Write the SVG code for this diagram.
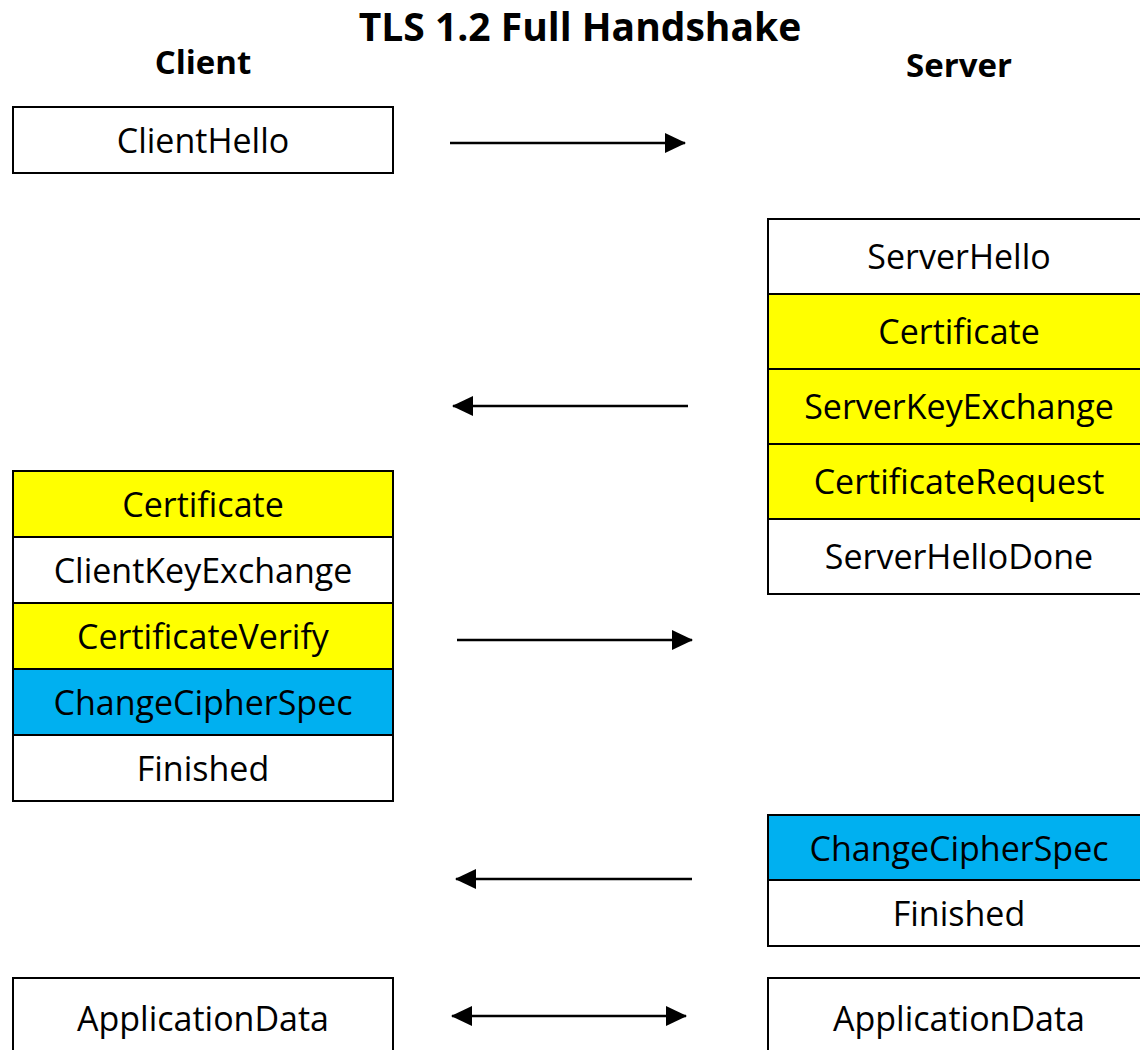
<svg xmlns="http://www.w3.org/2000/svg" width="1140" height="1050" viewBox="0 0 1140 1050">
  <style>
    .cell { stroke: #000; stroke-width: 2; }
    .plain { fill: #ffffff; }
    .opt { fill: #ffff00; }
    .ccs { fill: #00b0f0; }
    .lbl { font-family: "Open Sans", "Noto Sans", sans-serif; font-size: 34px; fill: #000; text-anchor: middle; }
    .hdr { font-family: "Open Sans", "Noto Sans", sans-serif; font-size: 33px; font-weight: bold; fill: #000; text-anchor: middle; }
    .title { font-family: "Open Sans", "Noto Sans", sans-serif; font-size: 39px; font-weight: bold; fill: #000; text-anchor: middle; }
    .msg { stroke: #000; stroke-width: 2.5; fill: none; }
  </style>
  <defs>
    <marker id="head" viewBox="0 0 21 20" refX="20" refY="10" markerWidth="21" markerHeight="20" markerUnits="userSpaceOnUse" orient="auto-start-reverse">
      <path d="M0,0 L21,10 L0,20 Z" fill="#000"/>
    </marker>
  </defs>
  <rect width="1140" height="1050" fill="#ffffff"/>

  <text class="title" x="580" y="41">TLS 1.2 Full Handshake</text>
  <text class="hdr" x="203" y="74">Client</text>
  <text class="hdr" x="959" y="77">Server</text>

  <!-- client flight 1 -->
  <g id="client-hello">
    <rect class="cell plain" x="13" y="107" width="380" height="66"/>
    <text class="lbl" x="203" y="153">ClientHello</text>
  </g>

  <!-- server flight -->
  <g id="server-flight">
    <rect class="cell plain" x="768" y="219" width="382" height="75"/>
    <text class="lbl" x="959" y="269">ServerHello</text>
    <rect class="cell opt" x="768" y="294" width="382" height="75"/>
    <text class="lbl" x="959" y="344">Certificate</text>
    <rect class="cell opt" x="768" y="369" width="382" height="75"/>
    <text class="lbl" x="959" y="419">ServerKeyExchange</text>
    <rect class="cell opt" x="768" y="444" width="382" height="75"/>
    <text class="lbl" x="959" y="494">CertificateRequest</text>
    <rect class="cell plain" x="768" y="519" width="382" height="75"/>
    <text class="lbl" x="959" y="569">ServerHelloDone</text>
  </g>

  <!-- client flight 2 -->
  <g id="client-flight">
    <rect class="cell opt" x="13" y="471" width="380" height="66"/>
    <text class="lbl" x="203" y="517">Certificate</text>
    <rect class="cell plain" x="13" y="537" width="380" height="66"/>
    <text class="lbl" x="203" y="583">ClientKeyExchange</text>
    <rect class="cell opt" x="13" y="603" width="380" height="66"/>
    <text class="lbl" x="203" y="649">CertificateVerify</text>
    <rect class="cell ccs" x="13" y="669" width="380" height="66"/>
    <text class="lbl" x="203" y="715">ChangeCipherSpec</text>
    <rect class="cell plain" x="13" y="735" width="380" height="66"/>
    <text class="lbl" x="203" y="781">Finished</text>
  </g>

  <!-- server final flight -->
  <g id="server-finish">
    <rect class="cell ccs" x="768" y="815" width="382" height="65"/>
    <text class="lbl" x="959" y="861">ChangeCipherSpec</text>
    <rect class="cell plain" x="768" y="880" width="382" height="66"/>
    <text class="lbl" x="959" y="926">Finished</text>
  </g>

  <!-- application data -->
  <g id="client-app-data">
    <rect class="cell plain" x="13" y="978" width="380" height="90"/>
    <text class="lbl" x="203" y="1031">ApplicationData</text>
  </g>
  <g id="server-app-data">
    <rect class="cell plain" x="768" y="978" width="382" height="90"/>
    <text class="lbl" x="959" y="1031">ApplicationData</text>
  </g>

  <!-- message arrows -->
  <g id="connectors">
    <line class="msg" x1="450" y1="143" x2="685" y2="143" marker-end="url(#head)"/>
    <line class="msg" x1="688" y1="406" x2="453" y2="406" marker-end="url(#head)"/>
    <line class="msg" x1="457" y1="640" x2="692" y2="640" marker-end="url(#head)"/>
    <line class="msg" x1="692" y1="879" x2="456" y2="879" marker-end="url(#head)"/>
    <line class="msg" x1="452" y1="1016" x2="686" y2="1016" marker-start="url(#head)" marker-end="url(#head)"/>
  </g>
</svg>
